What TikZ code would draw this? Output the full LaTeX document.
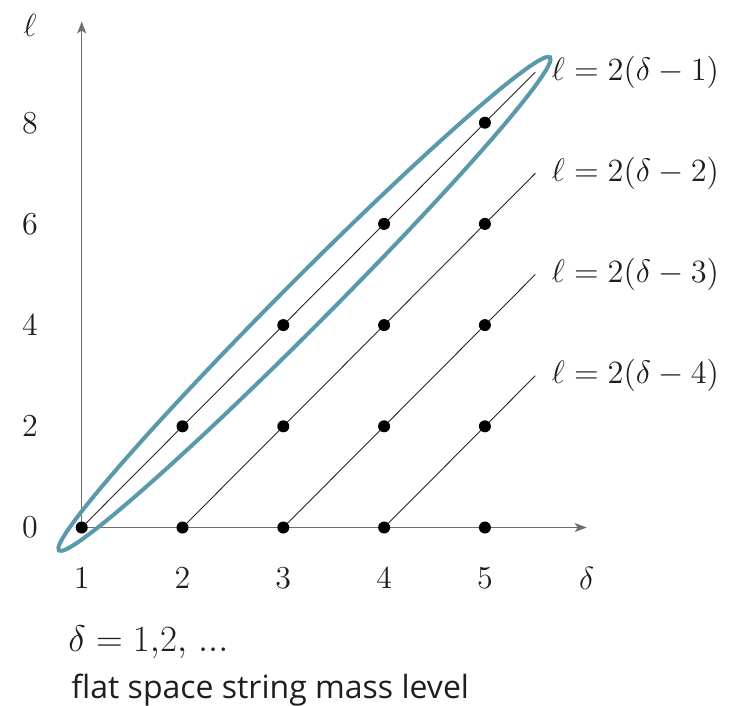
\RequirePackage{fix-cm}
\documentclass[tikz,border=0pt]{standalone}
\usepackage{fontspec}
\newfontfamily\uifont{Open Sans}
\usetikzlibrary{arrows.meta}
\definecolor{ellblue}{RGB}{90,152,172}
\definecolor{axisgray}{RGB}{110,110,110}
\definecolor{txt}{RGB}{30,30,30}
\begin{document}
\begin{tikzpicture}[x=50.4pt,y=25.3pt,
  dot/.style={circle,fill=black,inner sep=0pt,minimum size=6pt},
  axisline/.style={draw=axisgray,line width=0.7pt,-{Stealth[length=6pt,width=4.5pt,inset=1.5pt]}},
  famline/.style={draw=black!85,line width=0.45pt},
  ticklab/.style={text=txt,font=\fontsize{16}{19}\selectfont},
  famlab/.style={text=txt,anchor=west,inner sep=0pt,xshift=8pt,font=\fontsize{16.2}{19}\selectfont},
  ell/.style={draw=ellblue,line width=2pt}]
\useasboundingbox (0.1895,-3.508) rectangle (7.491,10.425);
% lattice coordinates
\foreach \d in {1,...,5}{
  \foreach \l in {0,2,...,8}{
    \pgfmathtruncatemacro\lmax{2*(\d-1)}
    \ifnum\l>\lmax\relax\else
      \coordinate (c-\d-\l) at (\d,\l);
    \fi
  }
}
% family lines and labels
\foreach \k in {1,...,4}{
  \pgfmathsetmacro\le{2*(5.5-\k)}
  \coordinate (e\k) at (5.5,\le);
  \draw[famline] (c-\k-0) -- (e\k);
  \node[famlab] (lab\k) at (e\k) {$\ell = 2(\delta - \k)$};
}
% axes
\coordinate (yend) at (1,10);
\coordinate (xend) at (6.01,0);
\draw[axisline] (c-1-0) -- (yend);
\draw[axisline] (c-1-0) -- (xend);
% ellipse
\coordinate (ec) at (3.21,4.42);
\draw[ell,rotate around={45.11:(ec)}] (ec) ellipse [x radius=174pt,y radius=11.75pt];
% dots
\foreach \d in {1,...,5}{
  \foreach \l in {0,2,...,8}{
    \pgfmathtruncatemacro\lmax{2*(\d-1)}
    \ifnum\l>\lmax\relax\else
      \node[dot] (p-\d-\l) at (c-\d-\l) {};
    \fi
  }
}
% tick labels
\foreach \d in {1,...,5} \node[ticklab] (xt\d) at (\d,-1) {$\d$};
\foreach \l in {0,2,...,8} \node[ticklab] (yt\l) at (0.487,\l) {$\l$};
\node[ticklab] (xlab) at (6.01,-1) {$\delta$};
\node[ticklab] (ylab) at (0.487,9.93) {$\ell$};
% bottom text
\node[text=txt,anchor=base west,inner sep=0pt,font=\fontsize{18.5}{21}\selectfont] (deltas) at (0.864,-2.46) {$\delta = 1{,}2{,}\ {.}{.}{.}$};
\node[text=txt,anchor=base west,inner sep=0pt,font=\uifont\fontsize{16}{19}\selectfont] (caption) at (0.894,-3.37) {flat space string mass level};
\end{tikzpicture}
\end{document}
